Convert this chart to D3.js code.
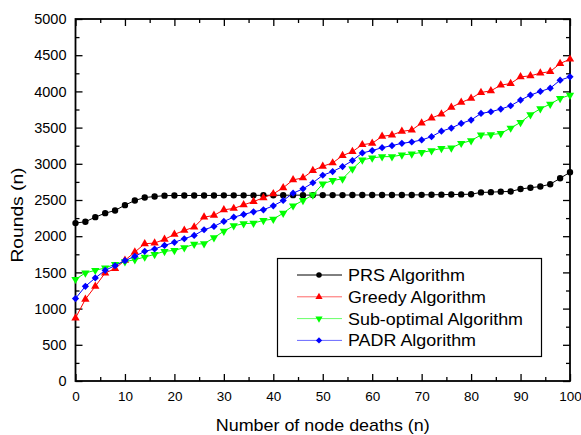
<!DOCTYPE html>
<html>
<head>
<meta charset="utf-8">
<script src="https://cdn.jsdelivr.net/npm/d3@7"></script>
<style>
  body { margin: 0; background: #fff; }
  text { font-family: Arial, "Liberation Sans", sans-serif; fill: #000; }
</style>
</head>
<body>
<div id="chart"></div>
<script>
// node deaths (x), every 2 from 0 to 100
const deaths = [0, 2, 4, 6, 8, 10, 12, 14, 16, 18, 20, 22, 24, 26, 28, 30, 32, 34, 36, 38, 40,
  42, 44, 46, 48, 50, 52, 54, 56, 58, 60, 62, 64, 66, 68, 70, 72, 74, 76, 78, 80,
  82, 84, 86, 88, 90, 92, 94, 96, 98, 100];

const prs = [2181, 2200, 2263, 2318, 2355, 2429, 2493, 2534, 2548, 2560, 2562, 2562, 2563, 2563, 2563, 2564, 2564, 2564, 2564, 2565, 2565,
  2566, 2567, 2567, 2568, 2568, 2568, 2568, 2569, 2569, 2569, 2570, 2570, 2570, 2570, 2571, 2572, 2574, 2576, 2577, 2580,
  2605, 2608, 2615, 2618, 2652, 2670, 2686, 2718, 2800, 2883];

const greedy = [870, 1129, 1308, 1492, 1552, 1667, 1781, 1896, 1905, 1956, 2025, 2080, 2125, 2263, 2287, 2365, 2383, 2433, 2479, 2530, 2585,
  2668, 2778, 2805, 2906, 2966, 3012, 3113, 3168, 3264, 3283, 3379, 3398, 3448, 3467, 3563, 3632, 3687, 3779, 3848, 3903,
  3985, 4008, 4086, 4109, 4201, 4215, 4252, 4274, 4385, 4445];

const subOptimal = [1405, 1492, 1529, 1561, 1612, 1648, 1676, 1712, 1749, 1791, 1804, 1842, 1890, 1896, 1979, 2070, 2144, 2172, 2181, 2218, 2236,
  2318, 2420, 2493, 2570, 2723, 2769, 2792, 2930, 3054, 3081, 3099, 3099, 3122, 3136, 3158, 3182, 3212, 3219, 3283, 3320,
  3398, 3402, 3420, 3494, 3572, 3678, 3760, 3825, 3903, 3949];

const padr = [1139, 1308, 1423, 1529, 1593, 1662, 1722, 1791, 1823, 1873, 1915, 1965, 2011, 2089, 2135, 2204, 2263, 2300, 2337, 2365, 2420,
  2493, 2594, 2654, 2738, 2842, 2893, 2961, 3044, 3150, 3182, 3223, 3251, 3283, 3301, 3329, 3375, 3450, 3494, 3558, 3604,
  3696, 3719, 3756, 3802, 3880, 3949, 3999, 4045, 4155, 4201];

const xTicks = [0, 10, 20, 30, 40, 50, 60, 70, 80, 90, 100];
const xMinorTicks = [5, 15, 25, 35, 45, 55, 65, 75, 85, 95];
const yTicks = [0, 500, 1000, 1500, 2000, 2500, 3000, 3500, 4000, 4500, 5000];
const yMinorTicks = [250, 750, 1250, 1750, 2250, 2750, 3250, 3750, 4250, 4750];

const seriesNames = ['PRS Algorithm', 'Greedy Algorithm', 'Sub-optimal Algorithm', 'PADR Algorithm'];
const seriesColors = ['#000000', '#ff0000', '#00ff00', '#0000ff'];

// rendered widths of the legend labels (the original font runs a little wide)
const legendTextWidths = [117, 138, 175, 128];

const series = [
  {name: seriesNames[0], values: prs, color: seriesColors[0], symbol: d3.symbolCircle, rotate: 0, size: 32},
  {name: seriesNames[1], values: greedy, color: seriesColors[1], symbol: d3.symbolTriangle, rotate: 0, size: 30},
  {name: seriesNames[2], values: subOptimal, color: seriesColors[2], symbol: d3.symbolTriangle, rotate: 180, size: 30},
  {name: seriesNames[3], values: padr, color: seriesColors[3], symbol: d3.symbolSquare, rotate: 45, size: 26},
];

const W = 581, H = 435;
const plotLeft = 75.5, plotRight = 570, plotTop = 19, plotBottom = 381;

const svg = d3.select('#chart')
  .append('svg')
  .attr('width', W)
  .attr('height', H);

const x = d3.scaleLinear().domain([0, 100]).range([plotLeft, plotRight]);
const y = d3.scaleLinear().domain([0, 5000]).range([plotBottom, plotTop]);

function tickAxis(axis, ticks, size, labels) {
  return axis.tickValues(ticks).tickSize(-size).tickSizeOuter(0)
    .tickFormat(labels ? d3.format('d') : '');
}

function drawAxis(axis, transform, cls) {
  const g = svg.append('g')
    .attr('class', cls)
    .attr('transform', transform)
    .call(axis);
  g.select('.domain').remove();
  g.selectAll('.tick line').attr('stroke', '#000').attr('stroke-width', 1.3);
  return g;
}

// bottom
const xAxis = drawAxis(tickAxis(d3.axisBottom(x), xTicks, 7, true).tickPadding(10), `translate(0,${plotBottom})`, 'x-axis');
xAxis.selectAll('text').attr('font-size', 13.5);
drawAxis(tickAxis(d3.axisBottom(x), xMinorTicks, 4, false), `translate(0,${plotBottom})`, 'x-minor');
// top
drawAxis(tickAxis(d3.axisTop(x), xTicks, 7, false), `translate(0,${plotTop})`, 'x-top');
drawAxis(tickAxis(d3.axisTop(x), xMinorTicks, 4, false), `translate(0,${plotTop})`, 'x-top-minor');
// left
const yAxis = drawAxis(tickAxis(d3.axisLeft(y), yTicks, 7, true).tickPadding(9), `translate(${plotLeft},0)`, 'y-axis');
yAxis.selectAll('text').attr('font-size', 14.5);
drawAxis(tickAxis(d3.axisLeft(y), yMinorTicks, 4, false), `translate(${plotLeft},0)`, 'y-minor');
// right
drawAxis(tickAxis(d3.axisRight(y), yTicks, 7, false), `translate(${plotRight},0)`, 'y-right');
drawAxis(tickAxis(d3.axisRight(y), yMinorTicks, 4, false), `translate(${plotRight},0)`, 'y-right-minor');

// frame
svg.append('rect')
  .attr('x', plotLeft)
  .attr('y', plotTop)
  .attr('width', plotRight - plotLeft)
  .attr('height', plotBottom - plotTop)
  .attr('fill', 'none')
  .attr('stroke', '#000')
  .attr('stroke-width', 1.8);

// axis titles
svg.append('text')
  .attr('x', (plotLeft + plotRight) / 2)
  .attr('y', 431)
  .attr('text-anchor', 'middle')
  .attr('font-size', 17)
  .attr('textLength', 214)
  .attr('lengthAdjust', 'spacingAndGlyphs')
  .text('Number of node deaths (n)');

svg.append('text')
  .attr('transform', 'translate(23,215) rotate(-90)')
  .attr('text-anchor', 'middle')
  .attr('font-size', 17)
  .attr('textLength', 95)
  .attr('lengthAdjust', 'spacingAndGlyphs')
  .text('Rounds (n)');

// lines + markers
const line = d3.line()
  .x((d, i) => x(deaths[i]))
  .y(d => y(d));

for (const s of series) {
  svg.append('path')
    .datum(s.values)
    .attr('fill', 'none')
    .attr('stroke', s.color)
    .attr('stroke-width', 1)
    .attr('d', line);

  svg.append('g')
    .selectAll('path')
    .data(s.values)
    .join('path')
    .attr('transform', (d, i) => `translate(${x(deaths[i])},${y(d)}) rotate(${s.rotate})`)
    .attr('d', d3.symbol(s.symbol, s.size))
    .attr('fill', s.color);
}

// legend
const lg = svg.append('g').attr('class', 'legend');
lg.append('rect')
  .attr('x', 277.5)
  .attr('y', 258.5)
  .attr('width', 264)
  .attr('height', 98)
  .attr('fill', '#fff')
  .attr('stroke', '#000')
  .attr('stroke-width', 1.2);

series.forEach((s, i) => {
  const cy = 275 + i * 21.8;
  lg.append('line')
    .attr('x1', 297).attr('x2', 342)
    .attr('y1', cy).attr('y2', cy)
    .attr('stroke', s.color)
    .attr('stroke-opacity', i === 0 ? 1 : 0.6)
    .attr('stroke-width', 1);
  lg.append('path')
    .attr('transform', `translate(319,${cy}) rotate(${s.rotate})`)
    .attr('d', d3.symbol(s.symbol, s.size * 0.75))
    .attr('fill', s.color);
  lg.append('text')
    .attr('x', 348)
    .attr('y', cy + 6)
    .attr('font-size', 17)
    .attr('textLength', legendTextWidths[i])
    .attr('lengthAdjust', 'spacingAndGlyphs')
    .text(s.name);
});
</script>
</body>
</html>
